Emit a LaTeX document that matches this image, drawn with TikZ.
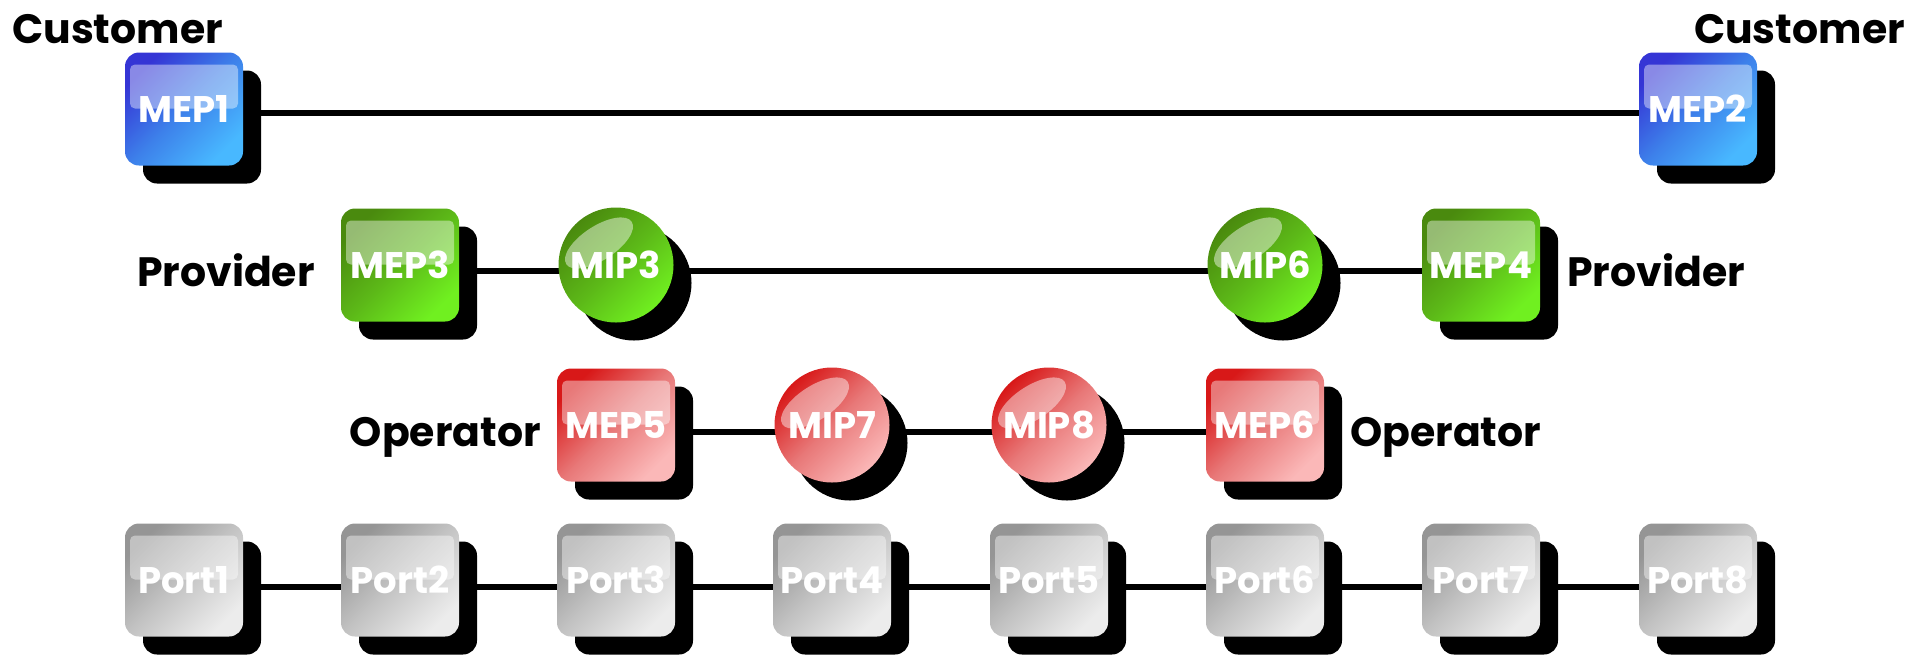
\documentclass[tikz,border=0pt]{standalone}
\usepackage{fontspec}
\setmainfont{Poppins}
\usetikzlibrary{shadows,backgrounds}

\definecolor{bluedark}{HTML}{3535D5}
\definecolor{bluemid}{HTML}{3D80EA}
\definecolor{bluelight}{HTML}{48B8FF}
\definecolor{greendark}{HTML}{4A8A0E}
\definecolor{greenmid}{HTML}{5CB818}
\definecolor{greenlight}{HTML}{70F020}
\definecolor{reddark}{HTML}{D81818}
\definecolor{redmid}{HTML}{E87878}
\definecolor{redlight}{HTML}{FBB8B8}
\definecolor{graydark}{HTML}{959595}
\definecolor{graymid}{HTML}{C4C4C4}
\definecolor{graylight}{HTML}{ECECEC}

% glossy reflection of a ball: a tilted ellipse in the upper left
\newcommand{\ballgloss}{%
  \begin{pgfscope}
    \pgfpathellipse
      {\pgfpointadd{\pgfpointanchor{path picture bounding box}{center}}{\pgfpoint{-17pt}{22pt}}}
      {\pgfpoint{32.7pt}{21.2pt}}
      {\pgfpoint{-9.3pt}{14.3pt}}
    \pgfsetfillcolor{white}
    \pgfsetfillopacity{0.45}
    \pgfusepath{fill}
  \end{pgfscope}}

\tikzset{
  x=1pt, y=-1pt,
  device/.style={inner sep=0pt, draw=none, text=white,
    font=\bfseries\fontsize{37}{37}\selectfont,
    drop shadow={shadow xshift=18pt, shadow yshift=-18pt, fill=black, opacity=1}},
  mepbox/.style={device, rectangle, rounded corners=14pt,
    minimum width=118pt, minimum height=113pt,
    path picture={\fill[white, opacity=.42, rounded corners=5pt]
      ([xshift=5pt,yshift=-12pt]path picture bounding box.north west) rectangle
      ([xshift=-5pt,yshift=-56pt]path picture bounding box.north east);}},
  mipball/.style={device, circle, minimum size=115pt,
    path picture={\ballgloss}},
  bluefill/.style={top color=bluedark, bottom color=bluelight, middle color=bluemid, shading angle=45},
  greenfill/.style={top color=greendark, bottom color=greenlight, middle color=greenmid, shading angle=45},
  redfill/.style={top color=reddark, bottom color=redlight, middle color=redmid, shading angle=45},
  grayfill/.style={top color=graydark, bottom color=graylight, middle color=graymid, shading angle=45},
  role/.style={font=\bfseries\fontsize{41}{41}\selectfont, inner sep=0pt},
  link/.style={line width=6.5pt, black},
}

\begin{document}
\begin{tikzpicture}
\useasboundingbox (0,0) rectangle (1927,657);

% customer level
\node[mepbox, bluefill] (mep1) at (184,109) {MEP1};
\node[mepbox, bluefill] (mep2) at (1698,109) {MEP2};
\node[role, anchor=base west] (cust1) at (12,43) {Customer};
\node[role, anchor=base east] (cust2) at (1905,43) {Customer};

% provider level
\node[mepbox, greenfill] (mep3) at (400,265) {MEP3};
\node[mipball, greenfill] (mip3) at (616,265) {MIP3};
\node[mipball, greenfill] (mip6) at (1265,265) {MIP6};
\node[mepbox, greenfill] (mep4) at (1481,265) {MEP4};
\node[role, anchor=base east] (prov1) at (315,286) {Provider};
\node[role, anchor=base west] (prov2) at (1567,286) {Provider};

% operator level
\node[mepbox, redfill] (mep5) at (616,425) {MEP5};
\node[mipball, redfill] (mip7) at (832,425) {MIP7};
\node[mipball, redfill] (mip8) at (1049,425) {MIP8};
\node[mepbox, redfill] (mep6) at (1265,425) {MEP6};
\node[role, anchor=base east] (oper1) at (541,446) {Operator};
\node[role, anchor=base west] (oper2) at (1350,446) {Operator};

% physical ports
\foreach \i/\x in {1/184, 2/400, 3/616, 4/832, 5/1049, 6/1265, 7/1481, 8/1698}
  \node[mepbox, grayfill] (port\i) at (\x,580) {Port\i};

% connections behind the devices
\begin{pgfonlayer}{background}
  \draw[link] ([yshift=-4pt]mep1.center) -- ([yshift=-4pt]mep2.center);
  \draw[link] ([yshift=-6pt]mep3.center) -- ([yshift=-6pt]mip3.center);
  \draw[link] ([yshift=-6pt]mip3.center) -- ([yshift=-6pt]mip6.center);
  \draw[link] ([yshift=-6pt]mip6.center) -- ([yshift=-6pt]mep4.center);
  \draw[link] ([yshift=-7pt]mep5.center) -- ([yshift=-7pt]mip7.center);
  \draw[link] ([yshift=-7pt]mip7.center) -- ([yshift=-7pt]mip8.center);
  \draw[link] ([yshift=-7pt]mip8.center) -- ([yshift=-7pt]mep6.center);
  \foreach \a/\b in {1/2, 2/3, 3/4, 4/5, 5/6, 6/7, 7/8}
    \draw[link] ([yshift=-7pt]port\a.center) -- ([yshift=-7pt]port\b.center);
\end{pgfonlayer}
\end{tikzpicture}
\end{document}
